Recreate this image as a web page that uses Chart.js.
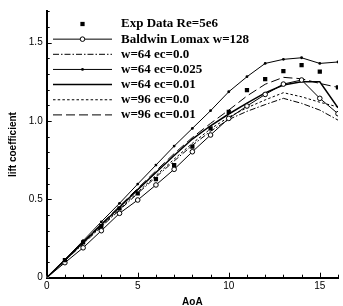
<!DOCTYPE html>
<html>
<head>
<meta charset="utf-8">
<script src="https://cdn.jsdelivr.net/npm/chart.js@4/dist/chart.umd.min.js"></script>
<style>
  html, body { margin: 0; padding: 0; background: #fff; }
  #wrap { width: 343px; height: 306px; }
</style>
</head>
<body>
<div id="wrap"><canvas id="liftChart" width="343" height="306"></canvas></div>
<script>
// angle of attack for the computed curves
const aoa = [0, 1, 2, 3, 4, 5, 6, 7, 8, 9, 10, 11, 12, 13, 14, 15, 16];

// experiment
const expAoa = [1, 2, 3, 4, 5, 6, 7, 8, 9, 10, 11, 12, 13, 14, 15, 16];
const expCl = [0.112, 0.225, 0.330, 0.443, 0.539, 0.630, 0.719, 0.836, 0.953, 1.059, 1.198, 1.268, 1.319, 1.357, 1.315, 1.215];

const baldwinCl = [0, 0.096, 0.191, 0.300, 0.411, 0.496, 0.592, 0.692, 0.804, 0.911, 1.017, 1.096, 1.170, 1.236, 1.262, 1.145, 1.047];
const w64ec0Cl = [0, 0.108, 0.216, 0.325, 0.432, 0.538, 0.642, 0.745, 0.845, 0.935, 1.010, 1.062, 1.105, 1.145, 1.113, 1.070, 1.006];
const w64ec025Cl = [0, 0.117, 0.236, 0.357, 0.475, 0.598, 0.719, 0.840, 0.953, 1.066, 1.187, 1.283, 1.368, 1.394, 1.404, 1.368, 1.377];
const w64ec01Cl = [0, 0.112, 0.225, 0.338, 0.450, 0.562, 0.672, 0.780, 0.885, 0.970, 1.045, 1.115, 1.180, 1.230, 1.251, 1.251, 1.085];
const w96ec0Cl = [0, 0.110, 0.220, 0.330, 0.438, 0.546, 0.652, 0.757, 0.858, 0.950, 1.025, 1.085, 1.135, 1.181, 1.155, 1.120, 1.090];
const w96ec01Cl = [0, 0.113, 0.228, 0.343, 0.457, 0.570, 0.682, 0.792, 0.895, 0.985, 1.070, 1.160, 1.235, 1.279, 1.270, 1.240, 1.215];

const xTicks = [0, 5, 10, 15];
const yTicks = [0, 0.5, 1, 1.5];
const xMinor = [0, 1, 2, 3, 4, 5, 6, 7, 8, 9, 10, 11, 12, 13, 14, 15, 16];
const yMinor = [0, 0.1, 0.2, 0.3, 0.4, 0.5, 0.6, 0.7, 0.8, 0.9, 1.0, 1.1, 1.2, 1.3, 1.4, 1.5, 1.6, 1.7];

function pts(xs, ys) {
  return xs.map((x, i) => ({ x: x, y: ys[i] }));
}

// inward tick marks, major ones a bit longer
const tickMarks = {
  id: 'tickMarks',
  afterDraw(chart) {
    const { ctx, chartArea, scales: { x, y } } = chart;
    ctx.save();
    ctx.strokeStyle = '#000';
    ctx.lineWidth = 1;
    ctx.beginPath();
    xMinor.forEach(v => {
      const px = Math.round(x.getPixelForValue(v)) + 0.5;
      const len = xTicks.includes(v) ? 5 : 3;
      ctx.moveTo(px, chartArea.bottom);
      ctx.lineTo(px, chartArea.bottom - len);
    });
    yMinor.forEach(v => {
      const py = Math.round(y.getPixelForValue(v)) + 0.5;
      const major = yTicks.some(t => Math.abs(t - v) < 1e-6);
      ctx.moveTo(chartArea.left, py);
      ctx.lineTo(chartArea.left + (major ? 5 : 3), py);
    });
    ctx.stroke();
    ctx.restore();
  }
};

// legend drawn inside the plot, upper left
const legendBox = {
  id: 'legendBox',
  afterDraw(chart) {
    const ctx = chart.ctx;
    ctx.save();
    ctx.font = 'bold 13px "Liberation Serif"';
    ctx.textBaseline = 'middle';
    chart.data.datasets.forEach((ds, i) => {
      const yy = 24 + i * 15.15;
      if (ds.showLine !== false) {
        ctx.beginPath();
        ctx.setLineDash(ds.borderDash || []);
        ctx.lineWidth = ds.borderWidth;
        ctx.strokeStyle = '#000';
        ctx.moveTo(53, yy);
        ctx.lineTo(112, yy);
        ctx.stroke();
        ctx.setLineDash([]);
      }
      if (ds.pointRadius > 0) {
        const cx = 82.5;
        if (ds.pointStyle === 'rect') {
          const s = ds.pointRadius * Math.SQRT1_2;
          ctx.fillStyle = '#000';
          ctx.fillRect(cx - s, yy - s, 2 * s, 2 * s);
        } else {
          ctx.beginPath();
          ctx.arc(cx, yy, ds.pointRadius, 0, Math.PI * 2);
          ctx.fillStyle = ds.pointBackgroundColor;
          ctx.fill();
          if (ds.pointBorderWidth > 0) {
            ctx.lineWidth = ds.pointBorderWidth;
            ctx.strokeStyle = '#000';
            ctx.stroke();
          }
        }
      }
      ctx.fillStyle = '#000';
      ctx.fillText(ds.label, 121, yy);
    });
    ctx.restore();
  }
};

const ctx = document.getElementById('liftChart').getContext('2d');

new Chart(ctx, {
  type: 'line',
  data: {
    datasets: [
      {
        label: 'Exp Data Re=5e6',
        data: pts(expAoa, expCl),
        showLine: false,
        pointStyle: 'rect',
        pointRadius: 3,
        pointBackgroundColor: '#000',
        pointBorderWidth: 0,
        borderColor: '#000'
      },
      {
        label: 'Baldwin Lomax w=128',
        data: pts(aoa, baldwinCl),
        borderColor: '#000',
        borderWidth: 1,
        pointStyle: 'circle',
        pointRadius: 2.3,
        pointBackgroundColor: '#fff',
        pointBorderColor: '#000',
        pointBorderWidth: 1
      },
      {
        label: 'w=64 ec=0.0',
        data: pts(aoa, w64ec0Cl),
        borderColor: '#000',
        borderWidth: 1,
        borderDash: [6, 2, 1.5, 2],
        pointRadius: 0
      },
      {
        label: 'w=64 ec=0.025',
        data: pts(aoa, w64ec025Cl),
        borderColor: '#000',
        borderWidth: 1,
        pointStyle: 'circle',
        pointRadius: 1.4,
        pointBackgroundColor: '#000',
        pointBorderWidth: 0
      },
      {
        label: 'w=64 ec=0.01',
        data: pts(aoa, w64ec01Cl),
        borderColor: '#000',
        borderWidth: 1.5,
        pointRadius: 0
      },
      {
        label: 'w=96 ec=0.0',
        data: pts(aoa, w96ec0Cl),
        borderColor: '#000',
        borderWidth: 1,
        borderDash: [2.5, 2.2],
        pointRadius: 0
      },
      {
        label: 'w=96 ec=0.01',
        data: pts(aoa, w96ec01Cl),
        borderColor: '#000',
        borderWidth: 1,
        borderDash: [9, 4],
        pointRadius: 0
      }
    ]
  },
  options: {
    responsive: false,
    animation: false,
    devicePixelRatio: 1,
    layout: { padding: { left: 0, right: 2.3, top: 11.4, bottom: 0 } },
    plugins: {
      legend: { display: false },
      tooltip: { enabled: false }
    },
    elements: { line: { tension: 0 } },
    scales: {
      x: {
        type: 'linear',
        min: 0,
        max: 16,
        afterBuildTicks: scale => { scale.ticks = xTicks.map(v => ({ value: v })); },
        afterFit: scale => { scale.height = 28.3; },
        grid: { display: false, drawTicks: false },
        border: { display: true, color: '#000', width: 2 },
        ticks: {
          color: '#000',
          padding: 3,
          maxRotation: 0,
          font: { family: '"Liberation Sans", Arial, sans-serif', size: 10 }
        },
        title: {
          display: true,
          text: 'AoA',
          color: '#000',
          padding: { top: 0, bottom: -2 },
          font: { family: '"Liberation Sans", Arial, sans-serif', size: 10, weight: 'bold' }
        }
      },
      y: {
        min: 0,
        max: 1.7,
        afterBuildTicks: scale => { scale.ticks = yTicks.map(v => ({ value: v })); },
        afterFit: scale => { scale.width = 46.7; },
        grid: { display: false, drawTicks: false },
        border: { display: true, color: '#000', width: 2 },
        ticks: {
          color: '#000',
          padding: 4,
          font: { family: '"Liberation Sans", Arial, sans-serif', size: 10 }
        },
        title: {
          display: true,
          text: 'lift coefficient',
          color: '#000',
          padding: { top: 7.5, bottom: 0 },
          font: { family: '"Liberation Sans", Arial, sans-serif', size: 10, weight: 'bold' }
        }
      }
    }
  },
  plugins: [tickMarks, legendBox]
});
</script>
</body>
</html>
